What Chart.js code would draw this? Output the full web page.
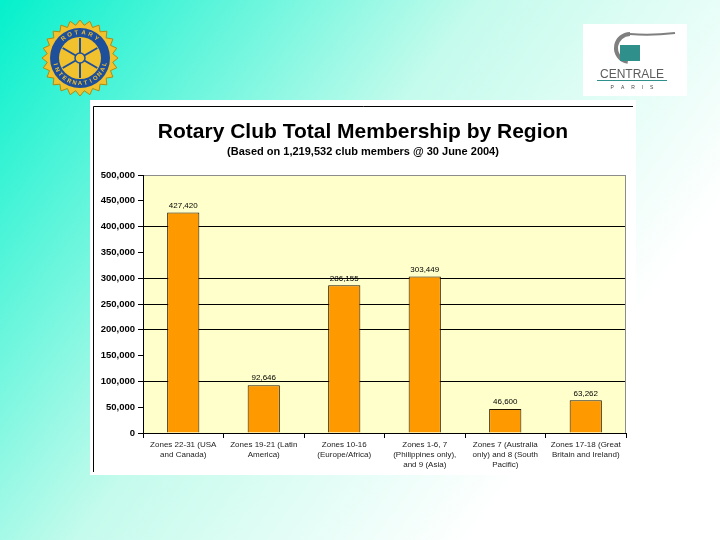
<!DOCTYPE html>
<html>
<head>
<meta charset="utf-8">
<script src="https://cdn.jsdelivr.net/npm/chart.js@4.4.1/dist/chart.umd.min.js"></script>
<style>
  html, body { margin: 0; padding: 0; }
  body { width: 720px; height: 540px; overflow: hidden; }
  #wrap { position: relative; width: 720px; height: 540px; }
</style>
</head>
<body>
<div id="wrap"><canvas id="bar-chart" width="720" height="540"></canvas></div>
<script>
//  DATA

var regions = [
    ['Zones 22-31 (USA', 'and Canada)'],
    ['Zones 19-21 (Latin', 'America)'],
    ['Zones 10-16', '(Europe/Africa)'],
    ['Zones 1-6, 7', '(Philippines only),', 'and 9 (Asia)'],
    ['Zones 7 (Australia', 'only) and 8 (South', 'Pacific)'],
    ['Zones 17-18 (Great', 'Britain and Ireland)']
];
var members = [427420, 92646, 286155, 303449, 46600, 63262];
var yTicks = [0, 50000, 100000, 150000, 200000, 250000, 300000, 350000, 400000, 450000, 500000];
var gridShown = [100000, 200000, 250000, 300000, 400000];

var chartTitle = 'Rotary Club Total Membership by Region';
var chartSubtitle = '(Based on 1,219,532 club members @ 30 June 2004)';

var FONT = '"Liberation Sans", Arial, sans-serif';

function fmt(v) {
    return v.toLocaleString('en-US');
}

//  SLIDE BACKGROUND, LOGOS AND CHART BOX

function drawRotary(ctx, cx, cy) {
    ctx.save();
    // gear teeth
    ctx.fillStyle = '#f2c12e';
    ctx.strokeStyle = '#b08a10';
    ctx.lineWidth = 1;
    ctx.beginPath();
    var teeth = 24;
    for (var i = 0; i < teeth * 2; i++) {
        var a = i * Math.PI / teeth;
        var r = (i % 2 === 0) ? 38 : 33;
        ctx.lineTo(cx + r * Math.cos(a), cy + r * Math.sin(a));
    }
    ctx.closePath();
    ctx.fill();
    ctx.stroke();
    // blue ring
    ctx.beginPath();
    ctx.arc(cx, cy, 30, 0, Math.PI * 2);
    ctx.fillStyle = '#1d4f9a';
    ctx.fill();
    ctx.beginPath();
    ctx.arc(cx, cy, 21, 0, Math.PI * 2);
    ctx.fillStyle = '#f2c12e';
    ctx.fill();
    // ring text
    ctx.fillStyle = '#f2c12e';
    ctx.font = 'bold 6px ' + FONT;
    ctx.textAlign = 'center';
    ctx.textBaseline = 'middle';
    var top = 'ROTARY';
    for (var j = 0; j < top.length; j++) {
        var ang = -Math.PI / 2 + (j - (top.length - 1) / 2) * 0.28;
        ctx.save();
        ctx.translate(cx + 25.5 * Math.cos(ang), cy + 25.5 * Math.sin(ang));
        ctx.rotate(ang + Math.PI / 2);
        ctx.fillText(top[j], 0, 0);
        ctx.restore();
    }
    var bottom = 'INTERNATIONAL';
    for (var k = 0; k < bottom.length; k++) {
        var ang2 = Math.PI / 2 - (k - (bottom.length - 1) / 2) * 0.22;
        ctx.save();
        ctx.translate(cx + 25.5 * Math.cos(ang2), cy + 25.5 * Math.sin(ang2));
        ctx.rotate(ang2 - Math.PI / 2);
        ctx.fillText(bottom[k], 0, 0);
        ctx.restore();
    }
    // spokes
    ctx.strokeStyle = '#1d4f9a';
    ctx.lineWidth = 2;
    for (var s = 0; s < 6; s++) {
        var sa = s * Math.PI / 3 + Math.PI / 6;
        ctx.beginPath();
        ctx.moveTo(cx + 5 * Math.cos(sa), cy + 5 * Math.sin(sa));
        ctx.lineTo(cx + 20 * Math.cos(sa), cy + 20 * Math.sin(sa));
        ctx.stroke();
    }
    ctx.beginPath();
    ctx.arc(cx, cy, 5, 0, Math.PI * 2);
    ctx.lineWidth = 1.5;
    ctx.stroke();
    ctx.restore();
}

function drawCentrale(ctx) {
    ctx.save();
    ctx.fillStyle = '#ffffff';
    ctx.fillRect(583, 24, 104, 72);
    // C swoosh
    ctx.strokeStyle = '#7f7f7f';
    ctx.lineWidth = 4;
    ctx.beginPath();
    ctx.arc(630, 48, 14, Math.PI * 0.55, Math.PI * 1.5);
    ctx.stroke();
    ctx.lineWidth = 2;
    ctx.beginPath();
    ctx.moveTo(630, 34);
    ctx.quadraticCurveTo(650, 36, 675, 33);
    ctx.stroke();
    // square
    ctx.fillStyle = '#2f8f8a';
    ctx.fillRect(620, 45, 20, 16);
    ctx.fillStyle = '#5c5c5c';
    ctx.font = '12px ' + FONT;
    ctx.textAlign = 'center';
    ctx.textBaseline = 'alphabetic';
    ctx.fillText('CENTRALE', 632, 78);
    ctx.fillStyle = '#2f8f8a';
    ctx.fillRect(597, 80, 70, 1);
    ctx.fillStyle = '#444';
    ctx.font = '5px ' + FONT;
    ctx.fillText('P     A     R     I     S', 632, 89);
    ctx.restore();
}

var slidePlugin = {
    id: 'slide',
    beforeDraw: function(chart) {
        var ctx = chart.ctx;
        ctx.save();
        var g = ctx.createLinearGradient(0, 0, 560, 420);
        g.addColorStop(0, '#04f0cc');
        g.addColorStop(0.55, '#c4fbec');
        g.addColorStop(1, '#ffffff');
        ctx.fillStyle = g;
        ctx.fillRect(0, 0, chart.width, chart.height);

        // chart picture
        ctx.fillStyle = '#ffffff';
        ctx.fillRect(90, 100, 546, 375);
        ctx.strokeStyle = '#000';
        ctx.lineWidth = 1;
        ctx.beginPath();
        ctx.moveTo(93.5, 472);
        ctx.lineTo(93.5, 106.5);
        ctx.lineTo(633, 106.5);
        ctx.stroke();

        // plot background
        var a = chart.chartArea;
        ctx.fillStyle = '#ffffcc';
        ctx.fillRect(a.left, a.top, a.right - a.left, a.bottom - a.top);
        ctx.restore();

        drawRotary(ctx, 80, 58);
        drawCentrale(ctx);

        // titles
        ctx.save();
        ctx.fillStyle = '#000';
        ctx.textAlign = 'center';
        ctx.textBaseline = 'middle';
        ctx.font = 'bold 21px ' + FONT;
        ctx.fillText(chartTitle, 363, 132);
        ctx.font = 'bold 11px ' + FONT;
        ctx.fillText(chartSubtitle, 363, 152);
        ctx.restore();
    },
    afterDatasetsDraw: function(chart) {
        var ctx = chart.ctx;
        var a = chart.chartArea;
        ctx.save();
        // right border of the plot area
        ctx.strokeStyle = '#8c8c8c';
        ctx.lineWidth = 1;
        ctx.beginPath();
        ctx.moveTo(a.right - 0.5, a.top);
        ctx.lineTo(a.right - 0.5, a.bottom);
        ctx.stroke();

        // value labels
        var meta = chart.getDatasetMeta(0);
        ctx.fillStyle = '#000';
        ctx.font = '8px ' + FONT;
        ctx.textAlign = 'center';
        ctx.textBaseline = 'bottom';
        meta.data.forEach(function(bar, i) {
            ctx.fillText(fmt(members[i]), bar.x, bar.y - 3);
        });
        ctx.restore();
    }
};

var chart = document.querySelector('#bar-chart');
var myChart = new Chart(
    chart, {
        type: 'bar',
        data: {
            labels: regions,
            datasets: [{
                data: members,
                label: 'Members',
                backgroundColor: '#ff9900',
                borderColor: '#1e1400',
                borderWidth: 1,
                barPercentage: 0.4,
                categoryPercentage: 1.0
            }]
        },
        options: {
            responsive: false,
            animation: false,
            layout: {
                padding: { left: 90, right: 94, top: 175, bottom: 47 }
            },
            plugins: {
                legend: { display: false },
                title: { display: false },
                tooltip: { enabled: false }
            },
            scales: {
                x: {
                    grid: {
                        drawOnChartArea: false,
                        tickLength: 5,
                        tickColor: '#000'
                    },
                    border: { color: '#000' },
                    ticks: {
                        color: '#222',
                        padding: 2,
                        maxRotation: 0,
                        autoSkip: false,
                        font: { size: 8, family: FONT, lineHeight: 1.25 }
                    },
                    afterFit: function(scale) { scale.height = 60; }
                },
                y: {
                    min: 0,
                    max: 500000,
                    afterBuildTicks: function(scale) {
                        scale.ticks = yTicks.map(function(v) { return { value: v }; });
                    },
                    grid: {
                        color: function(c) {
                            if (c.tick && c.tick.value === 500000) return '#8c8c8c';
                            if (c.tick && gridShown.indexOf(c.tick.value) >= 0) return '#000';
                            return 'rgba(0,0,0,0)';
                        },
                        tickColor: '#000',
                        tickLength: 5
                    },
                    border: { color: '#000' },
                    ticks: {
                        color: '#000',
                        padding: 3,
                        font: { size: 9.5, family: FONT, weight: 'bold' },
                        callback: function(v) { return fmt(v); }
                    },
                    afterFit: function(scale) { scale.width = 53; }
                }
            }
        },
        plugins: [slidePlugin]
    }
);
</script>
</body>
</html>
